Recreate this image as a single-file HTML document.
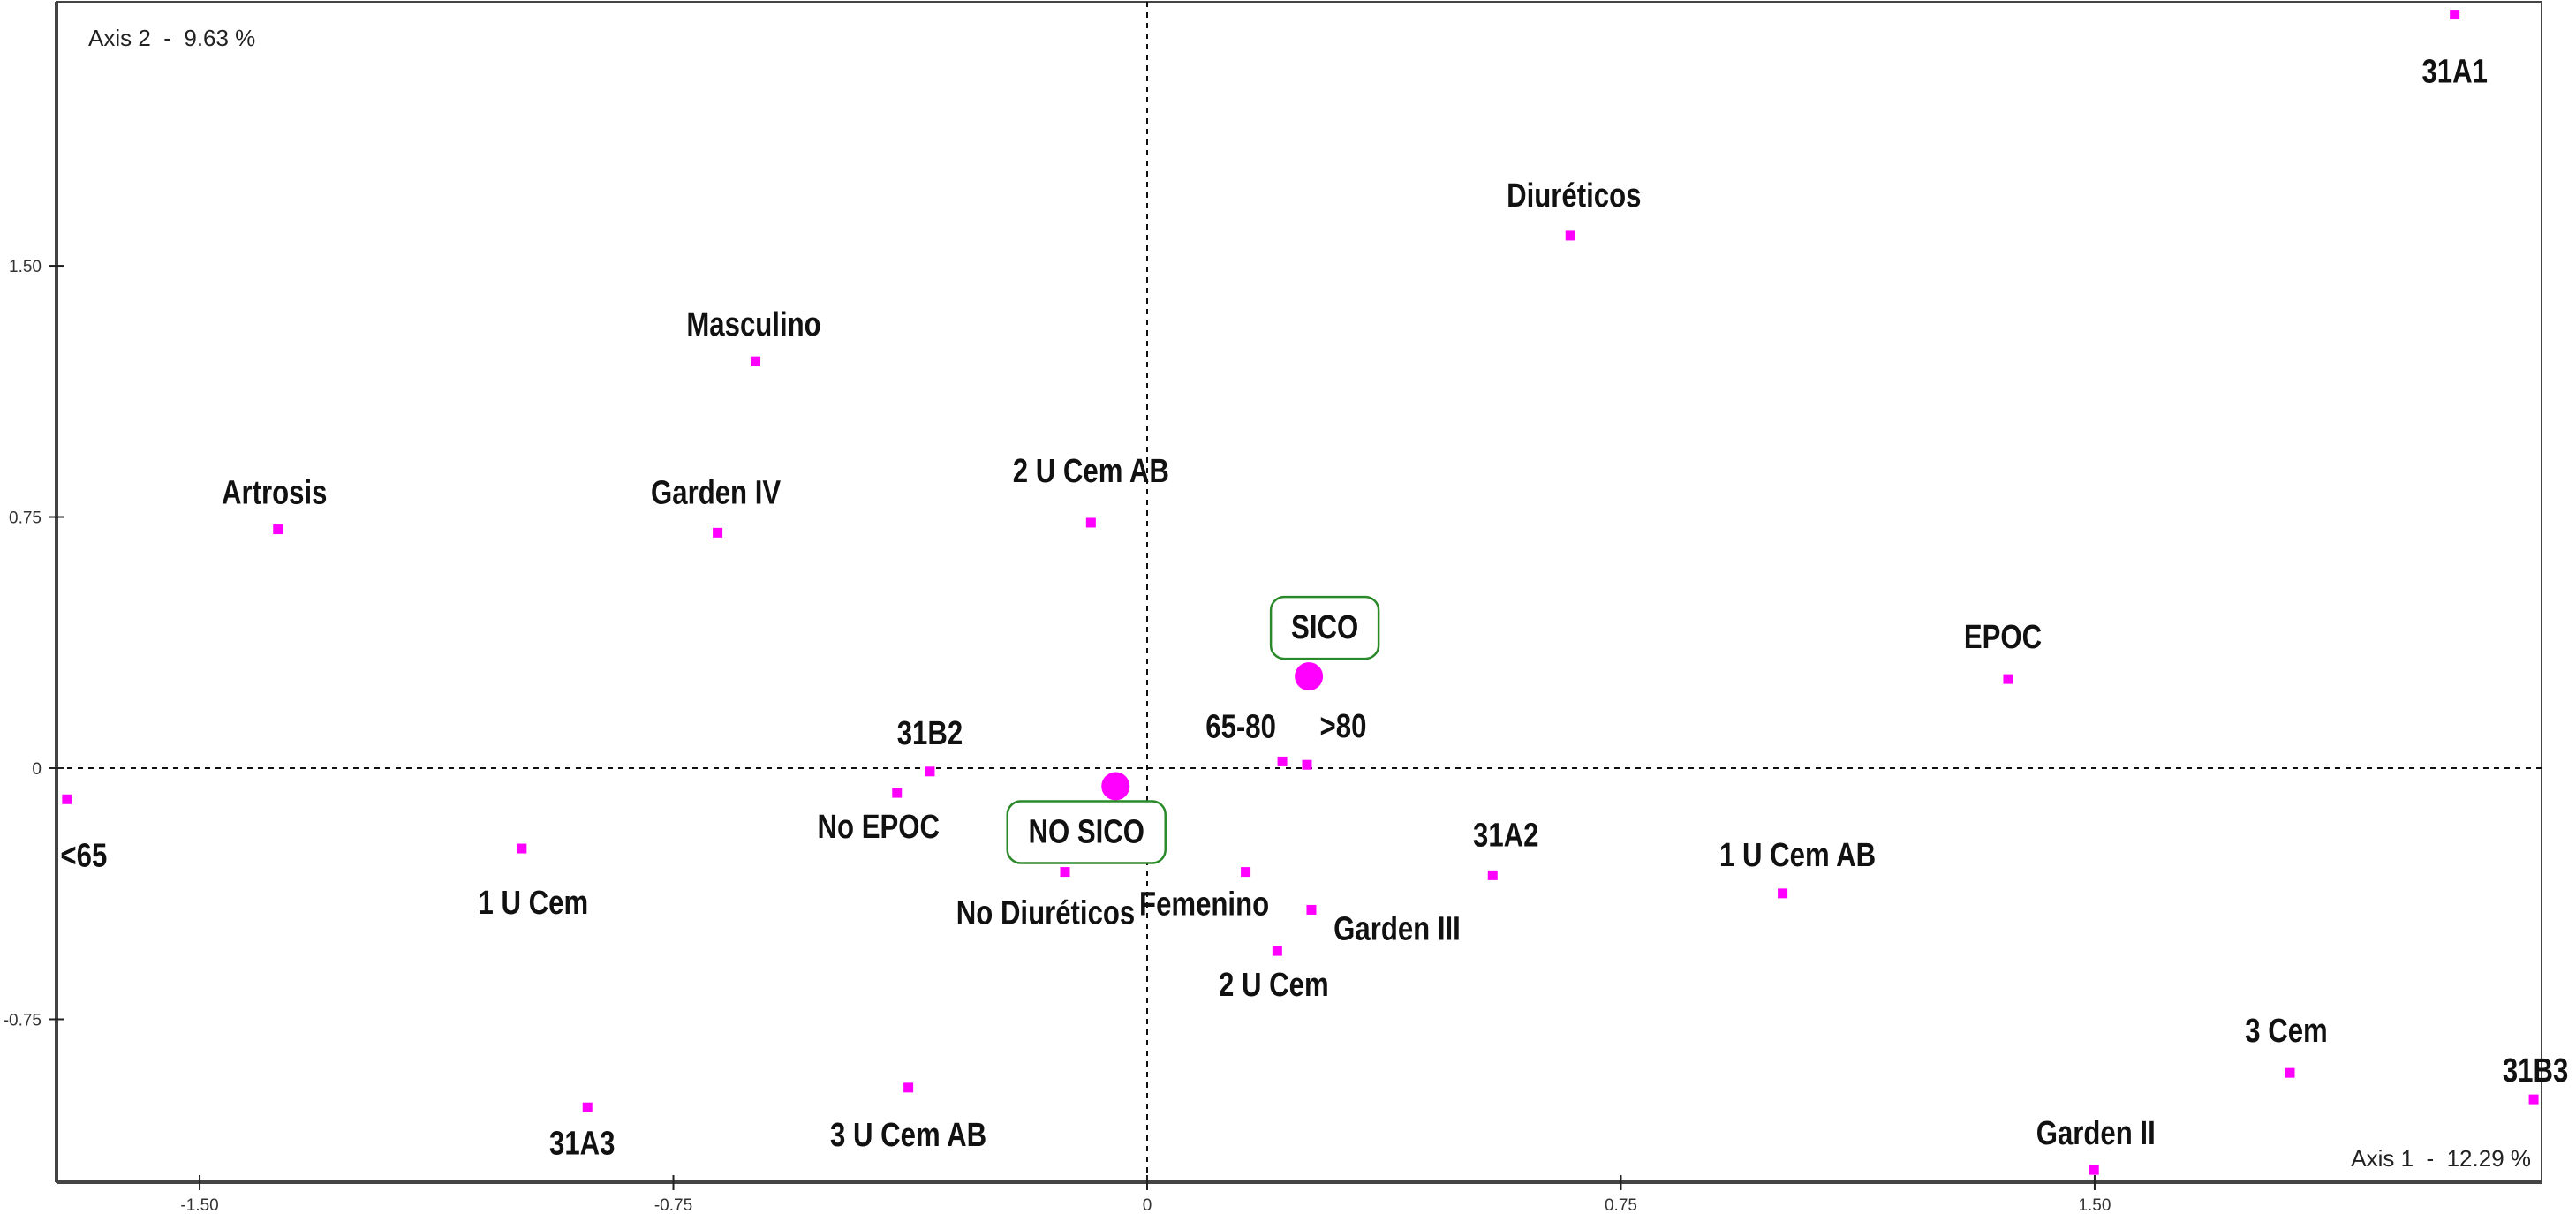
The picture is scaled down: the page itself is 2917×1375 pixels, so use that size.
<!DOCTYPE html>
<html><head><meta charset="utf-8"><style>
html,body{margin:0;padding:0;background:#fff;}
svg{display:block;}
.lbl{font-family:"Liberation Sans Narrow","Liberation Sans",sans-serif;font-weight:bold;font-size:38px;fill:#111;text-anchor:middle;dominant-baseline:central;}
.tick{font-family:"Liberation Sans",sans-serif;font-size:19px;fill:#333;}
.ax{font-family:"Liberation Sans",sans-serif;font-size:26px;fill:#222;white-space:pre;}
</style></head><body>
<svg id="chart" width="2917" height="1375" viewBox="0 0 2917 1375" xmlns="http://www.w3.org/2000/svg"></svg>
<script>
const labels=["31A1","Diuréticos","Masculino","Artrosis","Garden IV","2 U Cem AB","EPOC","31B2","65-80",">80","No EPOC","<65","1 U Cem","No Diuréticos","Femenino","31A2","1 U Cem AB","Garden III","2 U Cem","31A3","3 U Cem AB","3 Cem","31B3","Garden II"];
const xVals=[2.07,0.67,-0.62,-1.376,-0.68,-0.089,1.363,-0.344,0.214,0.253,-0.396,-1.71,-0.99,-0.13,0.156,0.547,1.006,0.26,0.206,-0.886,-0.378,1.809,2.195,1.499];
const yVals=[2.25,1.59,1.215,0.713,0.703,0.733,0.266,-0.01,0.02,0.01,-0.074,-0.093,-0.24,-0.31,-0.31,-0.32,-0.374,-0.423,-0.546,-1.013,-0.954,-0.91,-0.989,-1.2];
const supLabels=["SICO","NO SICO"];
const supX=[0.256,-0.05];
const supY=[0.274,-0.054];
const xTicks=[-1.5,-0.75,0,0.75,1.5];
const xTickLabels=["-1.50","-0.75","0","0.75","1.50"];
const yTicks=[1.5,0.75,0,-0.75];
const yTickLabels=["1.50","0.75","0","-0.75"];
// label offsets in px (layout, not data)
const offs=[[0,65],[4,-45],[-2,-41],[-4,-41],[-2,-45],[0,-58],[-6,-47],[0,-43],[-47,-39],[41,-43],[-21,39],[19,64],[13,62],[-22,47],[-47,37],[15,-45],[17,-43],[97,22],[-4,39],[-6,41],[0,54],[-4,-47],[2,-32],[2,-41]];
const supOffs=[[18,-55],[-33,52]];
const X=v=>1299+v*715.3, Y=v=>870-v*379.3;
const L=64,R=2878,T=2,B=1339;
const svg=document.getElementById('chart');
const NS='http://www.w3.org/2000/svg';
function mk(tag,attrs,txt){const e=document.createElementNS(NS,tag);for(const k in attrs)e.setAttribute(k,attrs[k]);if(txt!==undefined)e.textContent=txt;svg.appendChild(e);return e;}
function lbl(x,y,t){return mk('text',{x:0,y:0,class:'lbl',transform:`translate(${x},${y}) scale(0.82,1)`},t);}
let e;
e=mk('rect',{x:L,y:T,width:R-L,height:B-T,fill:'none',stroke:'#444','stroke-width':2});


e=mk('line',{x1:L,y1:B,x2:R,y2:B,stroke:'#444','stroke-width':4});


e=mk('line',{x1:L,y1:T,x2:L,y2:B,stroke:'#444','stroke-width':4});


e=mk('line',{x1:X(0),y1:T,x2:X(0),y2:B,stroke:'#111','stroke-width':2,'stroke-dasharray':'6,6'});


e=mk('line',{x1:L,y1:Y(0),x2:R,y2:Y(0),stroke:'#111','stroke-width':2,'stroke-dasharray':'6,6'});


xTicks.forEach((t,i)=>{
  e=mk('line',{x1:X(t),y1:B-8,x2:X(t),y2:B+9,stroke:'#222','stroke-width':2});
  
  
  e=mk('text',{x:X(t),y:B+32,class:'tick','text-anchor':'middle'},xTickLabels[i]);
  
  
});
yTicks.forEach((t,i)=>{
  e=mk('line',{x1:L-8,y1:Y(t),x2:L+8,y2:Y(t),stroke:'#222','stroke-width':2});
  
  
  e=mk('text',{x:L-17,y:Y(t)+7,class:'tick','text-anchor':'end'},yTickLabels[i]);
  
  
});
e=mk('text',{x:100,y:52,class:'ax'},'Axis 2  -  9.63 %');


e=mk('text',{x:2866,y:1321,class:'ax','text-anchor':'end'},'Axis 1  -  12.29 %');


labels.forEach((l,i)=>{
  const px=X(xVals[i]),py=Y(yVals[i]);
  e=mk('rect',{x:px-5.5,y:py-5.5,width:11,height:11,fill:'#ff00ff'});
  
  
  e=lbl(px+offs[i][0],py+offs[i][1],l);
  
  
});
supLabels.forEach((l,i)=>{
  const px=X(supX[i]),py=Y(supY[i]);
  e=mk('circle',{cx:px,cy:py,r:16,fill:'#ff00ff'});
  
  
  const cx=px+supOffs[i][0],cy=py+supOffs[i][1];
  const w=l.length*19+46;
  e=mk('rect',{x:cx-w/2,y:cy-35,width:w,height:70,rx:15,fill:'#fff',stroke:'#2a8a2a','stroke-width':2.5});
  
  
  e=lbl(cx,cy,l);
  
  
});
</script>
</body></html>
